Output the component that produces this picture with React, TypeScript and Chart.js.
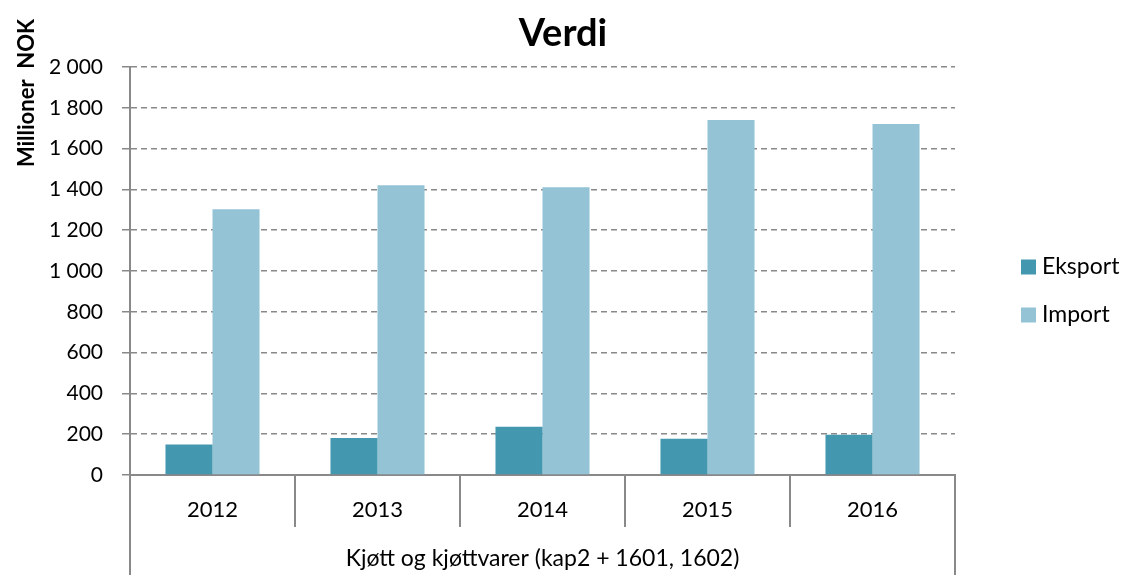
import React, { useEffect, useRef } from "react";
import { Chart, registerables } from "chart.js";

Chart.register(...registerables);

// ---- Data ----
const categories = ["2012", "2013", "2014", "2015", "2016"];
const seriesNames = ["Eksport", "Import"];
const eksportValues = [150, 181, 237, 178, 197];
const importValues = [1303, 1420, 1411, 1740, 1721];
const yMin = 0;
const yMax = 2000;
const yStep = 200;
const chartTitle = "Verdi";
const yAxisTitle = "Millioner  NOK";
const groupLabel = "Kjøtt og kjøttvarer (kap2 + 1601, 1602)";

const seriesColors = ["#4398AF", "#93C3D5"];
const axisColor = "#898989";
const FONT = "Lato, 'Open Sans', sans-serif";

const fmt = (v: number) => String(v).replace(/\B(?=(\d{3})+(?!\d))/g, " ");

const decorPlugin = {
  id: "decor",
  afterDraw(chart: any) {
    const { ctx, chartArea, height } = chart;
    ctx.save();
    // long vertical lines of the two-level category axis
    ctx.strokeStyle = axisColor;
    ctx.lineWidth = 2;
    ctx.setLineDash([]);
    ctx.beginPath();
    ctx.moveTo(chartArea.left, chartArea.bottom);
    ctx.lineTo(chartArea.left, height);
    ctx.moveTo(chartArea.right, chartArea.bottom);
    ctx.lineTo(chartArea.right, height);
    ctx.stroke();

    // y axis title (rotated)
    ctx.save();
    ctx.translate(34, 93);
    ctx.rotate(-Math.PI / 2);
    ctx.font = `bold 22px ${FONT}`;
    ctx.fillStyle = "#000";
    ctx.textAlign = "center";
    ctx.textBaseline = "alphabetic";
    ctx.fillText(yAxisTitle, 0, 0);
    ctx.restore();

    // legend
    const lx = chartArea.right + 66;
    const midY = height / 2 + 3.5;
    chart.data.datasets.forEach((ds: any, i: number) => {
      const cy = midY + (i - 0.5) * 48;
      ctx.fillStyle = ds.backgroundColor;
      ctx.fillRect(lx, cy - 7.5, 15, 15);
      ctx.fillStyle = "#000";
      ctx.font = `23px ${FONT}`;
      ctx.textAlign = "left";
      ctx.textBaseline = "middle";
      ctx.fillText(ds.label, lx + 21, cy);
    });
    ctx.restore();
  },
};

export default function App() {
  const ref = useRef<HTMLCanvasElement | null>(null);

  useEffect(() => {
    document.body.style.margin = "0";
    const canvas = ref.current;
    if (!canvas) return;
    const chart = new Chart(canvas, {
      type: "bar",
      data: {
        labels: categories,
        datasets: [
          {
            label: seriesNames[0],
            data: eksportValues,
            backgroundColor: seriesColors[0],
            borderWidth: 0,
            barPercentage: 1,
            categoryPercentage: 0.57,
          },
          {
            label: seriesNames[1],
            data: importValues,
            backgroundColor: seriesColors[1],
            borderWidth: 0,
            barPercentage: 1,
            categoryPercentage: 0.57,
          },
        ],
      },
      options: {
        responsive: false,
        animation: false,
        devicePixelRatio: 1,
        layout: { padding: 0 },
        plugins: {
          legend: { display: false },
          tooltip: { enabled: false },
          title: {
            display: true,
            text: chartTitle,
            color: "#000",
            font: { family: FONT, size: 38, weight: "bold" },
            padding: { top: 11, bottom: 10.4 },
          },
        },
        scales: {
          x: {
            grid: {
              offset: true,
              drawOnChartArea: false,
              tickLength: 52,
              color: axisColor,
              lineWidth: 2,
            },
            border: { color: axisColor, width: 2 },
            ticks: {
              color: "#000",
              font: { family: FONT, size: 22 },
              padding: -30,
              maxRotation: 0,
            },
            title: {
              display: true,
              text: groupLabel,
              color: "#000",
              font: { family: FONT, size: 23 },
              padding: { top: 0, bottom: 3 },
            },
            afterFit: (s: any) => {
              s.height = 100;
            },
          },
          y: {
            min: yMin,
            max: yMax,
            ticks: {
              stepSize: yStep,
              color: "#000",
              font: { family: FONT, size: 21 },
              padding: 19,
              callback: (v: any) => fmt(Number(v)),
            },
            grid: { color: axisColor, lineWidth: 1.5, tickLength: 8 },
            border: { color: axisColor, width: 2, dash: [6, 4] },
            afterFit: (s: any) => {
              s.width = 130;
            },
          },
          // empty right-hand box reserving room for the legend column
          legendSpace: {
            type: "linear",
            position: "right",
            display: true,
            grid: { display: false, drawTicks: false },
            border: { display: false },
            ticks: { display: false },
            afterFit: (s: any) => {
              s.width = 171;
            },
          },
        },
      },
      plugins: [decorPlugin],
    } as any);
    return () => chart.destroy();
  }, []);

  return (
    <div style={{ width: 1126, height: 575 }}>
      <canvas ref={ref} width={1126} height={575} style={{ display: "block" }} />
    </div>
  );
}
